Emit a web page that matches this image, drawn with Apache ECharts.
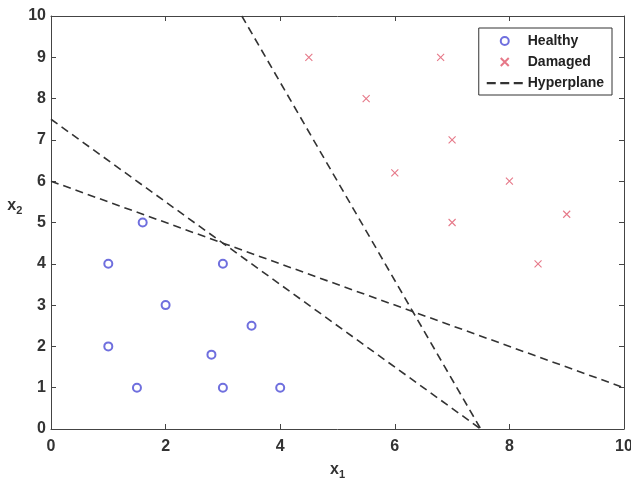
<!DOCTYPE html>
<html>
<head>
<meta charset="utf-8">
<script src="https://cdn.jsdelivr.net/npm/echarts@6/dist/echarts.min.js"></script>
<style>
  html, body { margin: 0; padding: 0; background: #fff; }
  #chart { width: 631px; height: 483px; }
</style>
</head>
<body>
<div id="chart"></div>
<script>
// data
var healthyX = [1, 1.6, 2, 1, 1.5, 2.8, 3, 3, 3.5, 4];
var healthyY = [4, 5, 3, 2, 1, 1.8, 1, 4, 2.5, 1];
var damagedX = [4.5, 5.5, 6.8, 7, 6, 8, 7, 9, 8.5];
var damagedY = [9, 8, 9, 7, 6.2, 6, 5, 5.2, 4];
// hyperplanes, each given by two end points [x, y]
var planes = [
  [[0, 6], [10, 1]],
  [[0, 7.5], [7.5, 0]],
  [[3.33, 10], [7.5, 0]]
];

function zip(xs, ys) {
  return xs.map(function (x, i) { return [x, ys[i]]; });
}

var chart = echarts.init(document.getElementById('chart'));

var labelFont = { fontFamily: 'Liberation Sans', fontWeight: 'bold', fontSize: 16, color: '#333' };
var axisLine = { onZero: false, lineStyle: { color: '#444', width: 1 } };
var tick = { inside: true, length: 5, lineStyle: { color: '#444' } };
var crossPath = 'path://M0,0L10,10M10,0L0,10';
var dashIcon = 'path://M0,0h8v2h-8z M12,0h8v2h-8z M24,0h8v2h-8z';
var nameRich = {
  b: { fontFamily: 'Liberation Sans', fontWeight: 'bold', fontSize: 16, color: '#333' },
  s: { fontFamily: 'Liberation Sans', fontWeight: 'bold', fontSize: 11, color: '#333', padding: [10, 0, 0, 0] }
};

var series = [
  {
    name: 'Healthy',
    type: 'scatter',
    symbol: 'emptyCircle',
    symbolSize: 8,
    itemStyle: { color: '#4b4bd6', borderWidth: 1.2 },
    data: zip(healthyX, healthyY),
    z: 3
  },
  {
    name: 'Damaged',
    type: 'scatter',
    symbol: crossPath,
    symbolSize: 7,
    itemStyle: { color: '#e0566a', borderColor: '#e0566a', borderWidth: 1.1 },
    data: zip(damagedX, damagedY),
    z: 3
  }
];
planes.forEach(function (p) {
  series.push({
    name: 'Hyperplane',
    type: 'line',
    showSymbol: false,
    symbol: 'none',
    lineStyle: { color: '#333', width: 1.6, type: [8, 5] },
    itemStyle: { color: '#333' },
    data: p,
    z: 2
  });
});

option = {
  animation: false,
  backgroundColor: '#fff',
  grid: { left: 51, right: 7, top: 16, bottom: 54, containLabel: false, outerBoundsMode: 'none' },
  legend: {
    orient: 'vertical',
    right: 19,
    top: 28,
    backgroundColor: '#fff',
    borderColor: '#333',
    borderWidth: 1,
    borderRadius: 0,
    padding: [5, 8, 4, 8],
    itemWidth: 36,
    itemHeight: 8,
    itemGap: 5,
    textStyle: { fontFamily: 'Liberation Sans', fontWeight: 'bold', fontSize: 14, color: '#222', lineHeight: 16 },
    data: [
      { name: 'Healthy', icon: 'emptyCircle', itemStyle: { borderWidth: 1.2 } },
      { name: 'Damaged', icon: crossPath },
      { name: 'Hyperplane', icon: dashIcon }
    ]
  },
  xAxis: [
    {
      type: 'value', min: 0, max: 10, interval: 2,
      name: '{b|x}{s|1}',
      nameLocation: 'middle',
      nameGap: 30,
      nameTextStyle: { rich: nameRich },
      axisLine: axisLine,
      axisTick: tick,
      axisLabel: Object.assign({ margin: 10 }, labelFont),
      splitLine: { show: false }
    },
    {
      type: 'value', min: 0, max: 10, interval: 2, position: 'top',
      axisLine: axisLine,
      axisTick: tick,
      axisLabel: { show: false },
      splitLine: { show: false }
    }
  ],
  yAxis: [
    {
      type: 'value', min: 0, max: 10, interval: 1,
      name: '{b|x}{s|2}',
      nameLocation: 'middle',
      nameRotate: 0,
      nameGap: 24,
      nameTextStyle: { padding: [0, 0, 34, 0], rich: nameRich },
      axisLine: axisLine,
      axisTick: tick,
      axisLabel: Object.assign({ margin: 5 }, labelFont),
      splitLine: { show: false }
    },
    {
      type: 'value', min: 0, max: 10, interval: 1, position: 'right',
      axisLine: axisLine,
      axisTick: tick,
      axisLabel: { show: false },
      splitLine: { show: false }
    }
  ],
  series: series
};

chart.setOption(option);
window.addEventListener('resize', chart.resize);
</script>
</body>
</html>
